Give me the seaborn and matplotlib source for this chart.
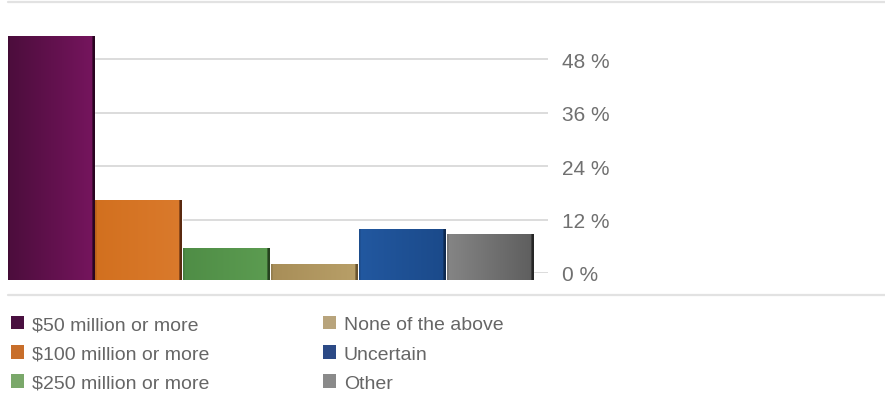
import numpy as np
import matplotlib
matplotlib.use("Agg")
import matplotlib.pyplot as plt
from matplotlib.colors import to_rgb
from matplotlib.lines import Line2D
from matplotlib.patches import Patch
import seaborn as sns

# Survey responses (% of respondents)
categories = ["$50 million or more", "$100 million or more", "$250 million or more",
              "None of the above", "Uncertain", "Other"]
values = [54.6, 17.9, 7.1, 3.5, 11.3, 10.2]
tick_values = [0, 12, 24, 36, 48]
tick_labels = [f"{v} %" for v in tick_values]

# Flat swatch colours for the legend, shaded ramps for the bars
legend_colors = ["#4a1040", "#c86e2a", "#7aa86a", "#b8a47c", "#2c4a86", "#8a8a8a"]
bar_ramps = [
    ("#4c0d3c", "#76155e", "#2a0520"),
    ("#d2701f", "#da7a2c", "#5a2a10"),
    ("#4f8d46", "#5c9c51", "#25421f"),
    ("#a88e58", "#b89f68", "#6a5530"),
    ("#2258a0", "#1b4a8a", "#0f2a50"),
    ("#858585", "#5e5e5e", "#262626"),
]

sns.set_style("white")
plt.rcParams["font.family"] = ["Liberation Sans", "DejaVu Sans"]

W, H = 885, 402
fig = plt.figure(figsize=(W / 100, H / 100), dpi=100)

PX_PER_PCT = 4.452
AX_LEFT, AX_RIGHT = 8, 548
AX_H = 250
ymax = AX_H / PX_PER_PCT

# Back wall: gridlines and percentage labels
gax = fig.add_axes([AX_LEFT / W, (H - 274) / H, (AX_RIGHT - AX_LEFT) / W, AX_H / H])
gax.set_ylim(0, ymax)
gax.set_xlim(0, 1)
for v in tick_values:
    gax.axhline(v, color="#d2d2d2", lw=1.1, zorder=0)
gax.set_yticks(tick_values)
gax.set_yticklabels(tick_labels)
gax.yaxis.tick_right()
gax.tick_params(axis="y", length=0, pad=10, labelsize=15, labelcolor="#707070")
gax.set_xticks([])
for s in gax.spines.values():
    s.set_visible(False)
gax.set_facecolor("none")

# Front: the bars
bax = fig.add_axes([AX_LEFT / W, (H - 280.5) / H, (AX_RIGHT - AX_LEFT) / W, AX_H / H])
bax.set_facecolor("none")
sns.barplot(x=categories, y=values, hue=categories, palette=legend_colors,
            legend=False, width=0.99, ax=bax, saturation=1)


def shade(ax, patch, left, right, edge):
    x, y = patch.get_x(), patch.get_y()
    w, h = patch.get_width(), patch.get_height()
    n = 100
    t = np.linspace(0, 1, n)[:, None]
    c0, c1, ce = (np.array(to_rgb(c)) for c in (left, right, edge))
    cols = c0 * (1 - t) + c1 * t
    cols[-3:] = ce
    cols[:2] = c0 * 0.88
    img = ax.imshow(cols[None, :, :], extent=[x, x + w, y, y + h], aspect="auto",
                    interpolation="bilinear", zorder=patch.get_zorder() + 0.1)
    img.set_clip_path(patch)


for patch, (l, r, e) in zip(bax.patches, bar_ramps):
    shade(bax, patch, l, r, e)

units = (AX_RIGHT - AX_LEFT) / 87.8
bax.set_xlim(-0.49, -0.49 + units)
bax.set_ylim(0, ymax)
bax.axis("off")

# Thin separator rules
for ypx in (3, 296):
    fig.add_artist(Line2D([AX_LEFT / W, 1], [1 - ypx / H] * 2, color="#e2e2e2", lw=1.6))

handles = [Patch(facecolor=c, edgecolor="none") for c in legend_colors]
fig.legend(handles, categories, ncol=2, loc="upper left",
           bbox_to_anchor=(11 / W, 1 - 317 / H), frameon=False, fontsize=14,
           handlelength=0.68, handleheight=0.68, handletextpad=0.42,
           labelspacing=0.6, columnspacing=5.8, borderaxespad=0, borderpad=0,
           labelcolor="#666666")

fig.savefig("out.png", dpi=100)
